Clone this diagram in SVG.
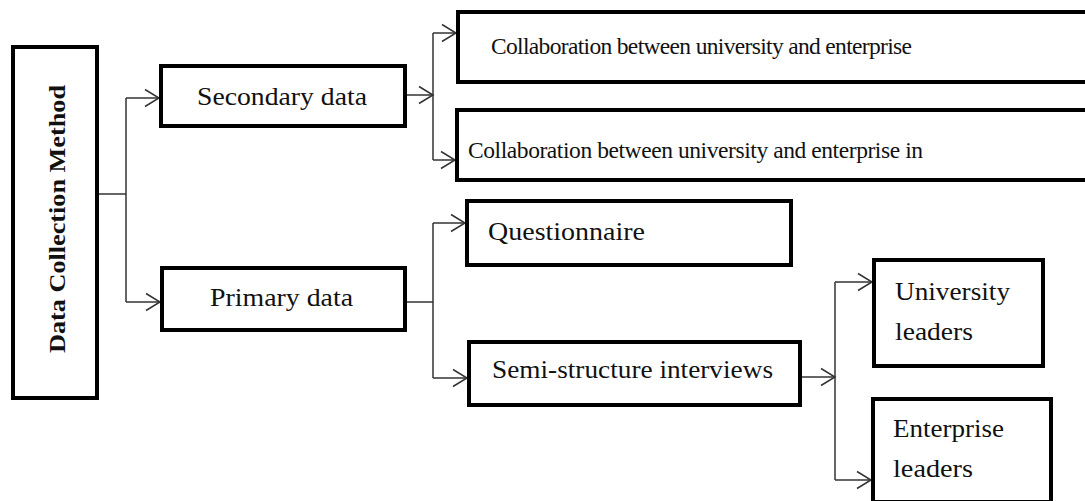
<svg xmlns="http://www.w3.org/2000/svg" width="1085" height="501" viewBox="0 0 1085 501">
<style>
.box{fill:#fff;stroke:#000;stroke-width:4}
.t{font-family:"Liberation Serif","Times New Roman",serif;font-size:25px;fill:#111}
.c{font-size:23.5px}
.b{font-weight:bold;font-size:24px}
.ln{fill:none;stroke:#333;stroke-width:1.5}
</style>
<defs>
<marker id="arr" markerUnits="userSpaceOnUse" markerWidth="20" markerHeight="22" refX="15" refY="10" orient="auto" viewBox="0 0 20 22">
<path d="M1,1.5 L15,10 L1,18.5" fill="none" stroke="#333" stroke-width="1.5"/>
</marker>
</defs>
<g id="connectors">
<path class="ln" d="M99,194 H126"/>
<path class="ln" d="M126,98 V302"/>
<path class="ln" d="M126,98 H159" marker-end="url(#arr)"/>
<path class="ln" d="M126,302 H160" marker-end="url(#arr)"/>
<path class="ln" d="M407,95 H433" marker-end="url(#arr)"/>
<path class="ln" d="M433,33 V160"/>
<path class="ln" d="M433,33 H456" marker-end="url(#arr)"/>
<path class="ln" d="M433,160 H455" marker-end="url(#arr)"/>
<path class="ln" d="M407,302 H433"/>
<path class="ln" d="M433,223 V378"/>
<path class="ln" d="M433,223 H465" marker-end="url(#arr)"/>
<path class="ln" d="M433,378 H467" marker-end="url(#arr)"/>
<path class="ln" d="M802,377 H835" marker-end="url(#arr)"/>
<path class="ln" d="M835,282 V480"/>
<path class="ln" d="M835,282 H872" marker-end="url(#arr)"/>
<path class="ln" d="M835,480 H871" marker-end="url(#arr)"/>
</g>
<g id="dcm">
<rect class="box" x="13" y="47" width="84" height="351"/>
<text class="t b" transform="translate(65,219) rotate(-90)" text-anchor="middle" textLength="268" lengthAdjust="spacingAndGlyphs">Data Collection Method</text>
</g>
<g id="secondary">
<rect class="box" x="161" y="66" width="244" height="60"/>
<text class="t" x="197" y="105" textLength="170" lengthAdjust="spacingAndGlyphs">Secondary data</text>
</g>
<g id="primary">
<rect class="box" x="162" y="268" width="243" height="62"/>
<text class="t" x="210" y="306" textLength="143" lengthAdjust="spacingAndGlyphs">Primary data</text>
</g>
<g id="collab1">
<rect class="box" x="458" y="12" width="640" height="70"/>
<text class="t c" x="491" y="54" textLength="421" lengthAdjust="spacing">Collaboration between university and enterprise</text>
</g>
<g id="collab2">
<rect class="box" x="457" y="110" width="640" height="70"/>
<text class="t c" x="468" y="158" textLength="455" lengthAdjust="spacing">Collaboration between university and enterprise in</text>
</g>
<g id="questionnaire">
<rect class="box" x="467" y="201" width="324" height="64"/>
<text class="t" x="488" y="240" textLength="157" lengthAdjust="spacingAndGlyphs">Questionnaire</text>
</g>
<g id="semi">
<rect class="box" x="469" y="342" width="331" height="63"/>
<text class="t" x="492" y="378" textLength="281" lengthAdjust="spacingAndGlyphs">Semi-structure interviews</text>
</g>
<g id="university">
<rect class="box" x="874" y="260" width="169" height="106"/>
<text class="t" x="895" y="300" textLength="115" lengthAdjust="spacingAndGlyphs">University</text>
<text class="t" x="895" y="340" textLength="78" lengthAdjust="spacingAndGlyphs">leaders</text>
</g>
<g id="enterprise">
<rect class="box" x="873" y="399" width="178" height="103"/>
<text class="t" x="893" y="437" textLength="111" lengthAdjust="spacingAndGlyphs">Enterprise</text>
<text class="t" x="893" y="477" textLength="80" lengthAdjust="spacingAndGlyphs">leaders</text>
</g>
</svg>
